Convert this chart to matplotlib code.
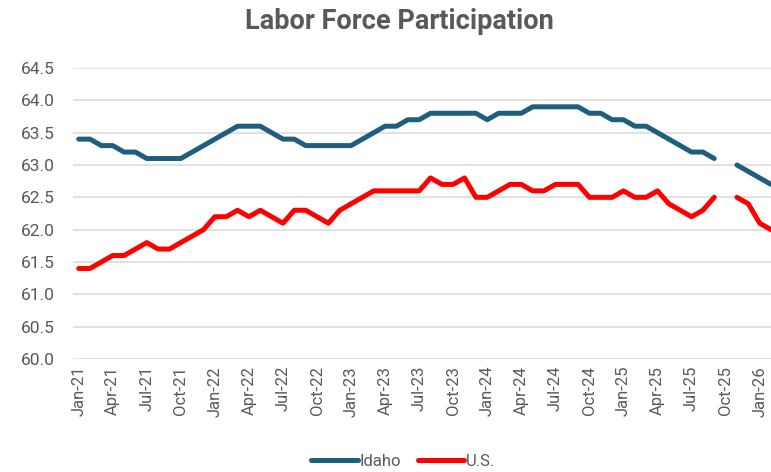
import numpy as np
import matplotlib.pyplot as plt

# monthly labels Jan-21 .. Feb-26
months = ["Jan", "Feb", "Mar", "Apr", "May", "Jun",
          "Jul", "Aug", "Sep", "Oct", "Nov", "Dec"]
dates = [m + "-" + str(y) for y in range(21, 27) for m in months][:62]

nan = np.nan
idaho = [63.4, 63.4, 63.3, 63.3, 63.2, 63.2, 63.1, 63.1, 63.1, 63.1, 63.2, 63.3,
         63.4, 63.5, 63.6, 63.6, 63.6, 63.5, 63.4, 63.4, 63.3, 63.3, 63.3, 63.3,
         63.3, 63.4, 63.5, 63.6, 63.6, 63.7, 63.7, 63.8, 63.8, 63.8, 63.8, 63.8,
         63.7, 63.8, 63.8, 63.8, 63.9, 63.9, 63.9, 63.9, 63.9, 63.8, 63.8, 63.7,
         63.7, 63.6, 63.6, 63.5, 63.4, 63.3, 63.2, 63.2, 63.1, nan, 63.0, 62.9,
         62.8, 62.7]
us = [61.4, 61.4, 61.5, 61.6, 61.6, 61.7, 61.8, 61.7, 61.7, 61.8, 61.9, 62.0,
      62.2, 62.2, 62.3, 62.2, 62.3, 62.2, 62.1, 62.3, 62.3, 62.2, 62.1, 62.3,
      62.4, 62.5, 62.6, 62.6, 62.6, 62.6, 62.6, 62.8, 62.7, 62.7, 62.8, 62.5,
      62.5, 62.6, 62.7, 62.7, 62.6, 62.6, 62.7, 62.7, 62.7, 62.5, 62.5, 62.5,
      62.6, 62.5, 62.5, 62.6, 62.4, 62.3, 62.2, 62.3, 62.5, nan, 62.5, 62.4,
      62.1, 62.0]

plt.rcParams['font.family'] = ['Roboto', 'DejaVu Sans']
gray = "#595959"

fig = plt.figure(figsize=(7.71, 4.72), dpi=100)
ax = fig.add_axes([73/771, 113/472, 698/771, 291/472])

x = np.arange(len(dates))
ax.plot(x, idaho, color="#1f5f7e", lw=3.6, label="Idaho", solid_capstyle="round", solid_joinstyle="round")
ax.plot(x, us, color="#ff0000", lw=3.6, label="U.S.", solid_capstyle="round", solid_joinstyle="round")

ax.set_xlim(-0.5, 61.0)
ax.set_ylim(60, 64.5)
ax.set_yticks(np.arange(60, 64.51, 0.5))
ax.set_yticklabels([f"{v:.1f}" for v in np.arange(60, 64.51, 0.5)])
ax.set_xticks(x[::3])
ax.set_xticklabels(dates[::3], rotation=90)
ax.grid(axis="y", color="#d9d9d9", lw=1.1)
ax.set_axisbelow(True)
for s in ax.spines.values():
    s.set_visible(False)
ax.tick_params(axis="y", length=0, pad=13, labelsize=12.5, labelcolor=gray)
ax.tick_params(axis="x", length=0, pad=5, labelsize=12, labelcolor=gray)

fig.text(0.518, 0.955, "Labor Force Participation", ha="center", va="center",
         fontsize=19.5, fontweight="bold", color=gray)

fig.legend(loc="center", bbox_to_anchor=(0.523, 0.022), ncol=2, frameon=False,
           fontsize=12, labelcolor=gray, handlelength=2.8, handletextpad=0.1,
           columnspacing=1.0)

fig.savefig("out.png", dpi=100)
